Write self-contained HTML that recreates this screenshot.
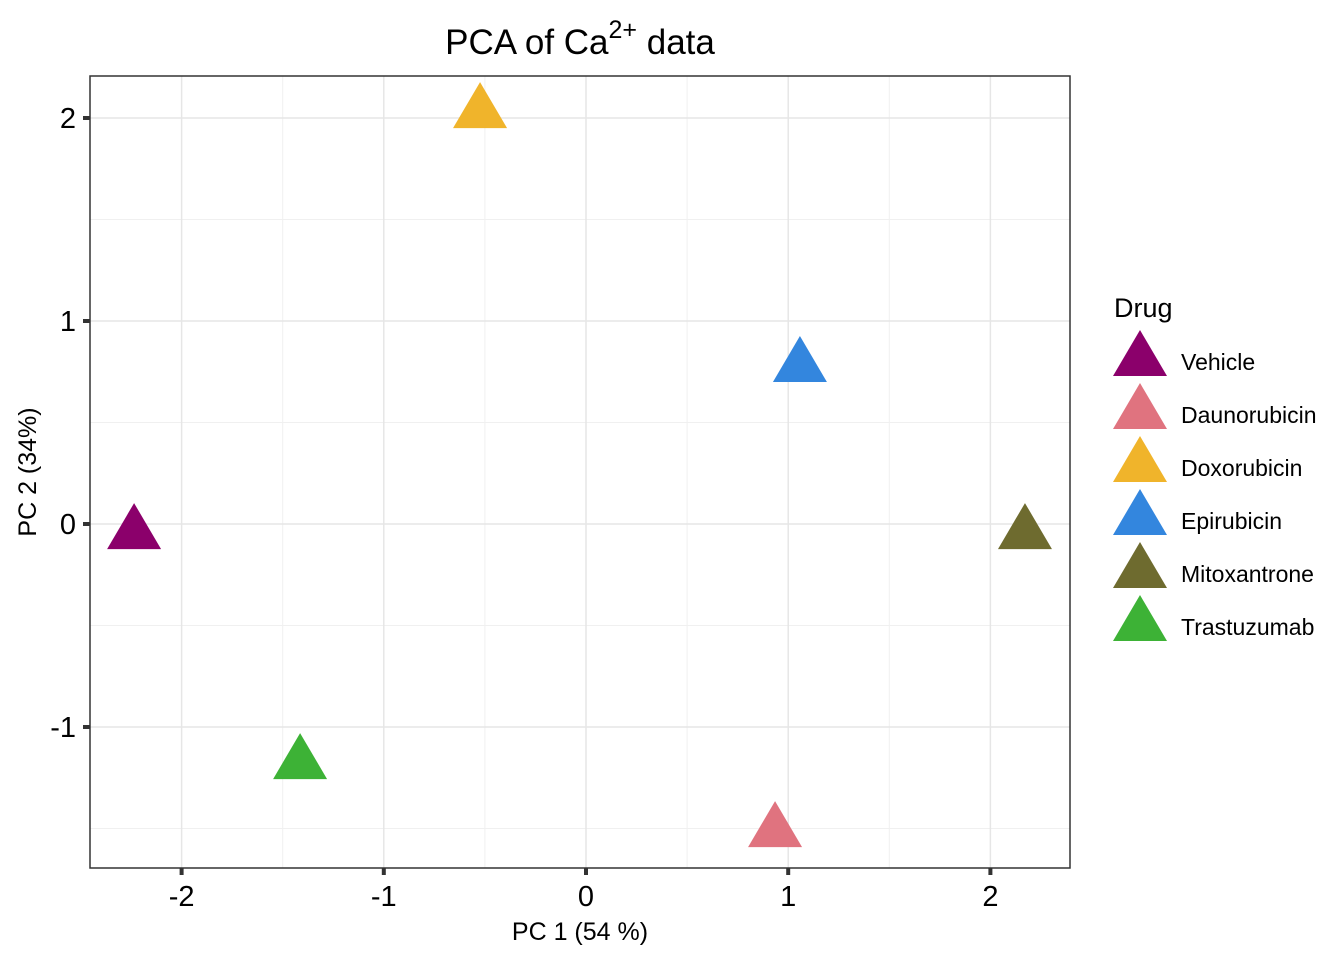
<!DOCTYPE html>
<html><head><meta charset="utf-8"><style>
body{margin:0;background:#fff;}
svg text{font-family:"Liberation Sans",Arial,sans-serif;}
</style></head><body>
<svg id="chart" width="1344" height="960" xmlns="http://www.w3.org/2000/svg">
<text x="580" y="54" font-size="35" text-anchor="middle">PCA of Ca<tspan dy="-16" font-size="25">2+</tspan><tspan dy="16"> data</tspan></text>
<g id="grid"></g>
<g id="points"></g>
<rect x="90" y="76" width="980" height="792" fill="none" stroke="#333" stroke-width="1.5"/>
<g id="axes"></g>
<text x="580" y="940" font-size="25" text-anchor="middle">PC 1 (54 %)</text>
<text transform="translate(36,472) rotate(-90)" font-size="25" text-anchor="middle">PC 2 (34%)</text>
<text x="1114" y="317" font-size="27">Drug</text>
<g id="legend"></g>
</svg>
<script>
const drugs=["Vehicle","Daunorubicin","Doxorubicin","Epirubicin","Mitoxantrone","Trastuzumab"];
const pc1=[-2.235,0.935,-0.524,1.058,2.171,-1.414];
const pc2=[-0.03,-1.498,2.044,0.793,-0.03,-1.163];
const colors=["#8B006B","#E0737F","#F0B42B","#3386DE","#6E6B2F","#3DB236"];
const xTicks=[-2,-1,0,1,2];
const yTicks=[-1,0,1,2];
const xMinor=[-1.5,-0.5,0.5,1.5];
const yMinor=[-1.5,-0.5,0.5,1.5];
const NS="http://www.w3.org/2000/svg";
const sx=v=>586+v*202.2;
const sy=v=>524-v*203;
function mk(tag,attrs,parent){const e=document.createElementNS(NS,tag);for(const k in attrs)e.setAttribute(k,attrs[k]);parent.appendChild(e);return e;}
const grid=document.getElementById('grid'),axes=document.getElementById('axes'),pts=document.getElementById('points'),leg=document.getElementById('legend');
xMinor.forEach(v=>{const l=mk('line',{x1:sx(v),x2:sx(v),y1:76,y2:868,stroke:'#f0f0f0','stroke-width':1},grid);

});
yMinor.forEach(v=>{const l=mk('line',{x1:90,x2:1070,y1:sy(v),y2:sy(v),stroke:'#f0f0f0','stroke-width':1},grid);

});
xTicks.forEach(v=>{const l=mk('line',{x1:sx(v),x2:sx(v),y1:76,y2:868,stroke:'#e6e6e6','stroke-width':1.5},grid);


const t=mk('line',{x1:sx(v),x2:sx(v),y1:868,y2:875,stroke:'#333','stroke-width':4},axes);


const tx=mk('text',{x:sx(v),y:906,'font-size':29,'text-anchor':'middle'},axes);tx.textContent=v;

});
yTicks.forEach(v=>{const l=mk('line',{x1:90,x2:1070,y1:sy(v),y2:sy(v),stroke:'#e6e6e6','stroke-width':1.5},grid);


const t=mk('line',{x1:83,x2:90,y1:sy(v),y2:sy(v),stroke:'#333','stroke-width':4},axes);


const tx=mk('text',{x:76,y:sy(v)+10,'font-size':29,'text-anchor':'end'},axes);tx.textContent=v;

});
function tri(cx,cy){return `${cx},${cy-27} ${cx-27},${cy+19} ${cx+27},${cy+19}`;}
drugs.forEach((d,i)=>{const p=mk('polygon',{points:tri(sx(pc1[i]),sy(pc2[i])),fill:colors[i]},pts);


const ly=357+i*53;
const k=mk('polygon',{points:tri(1140,ly),fill:colors[i]},leg);


const t=mk('text',{x:1181,y:ly+13,'font-size':23},leg);t.textContent=d;

});
</script>
</body></html>
